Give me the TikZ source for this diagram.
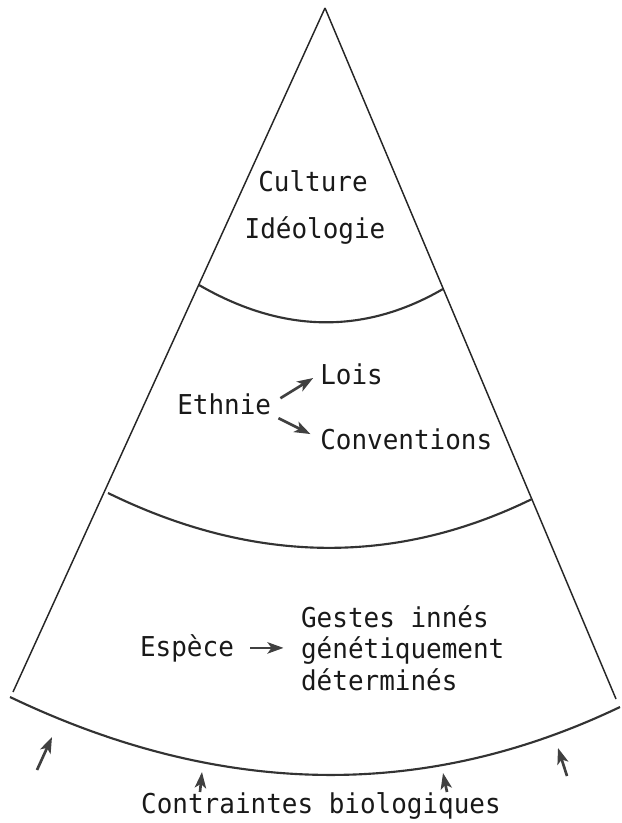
\documentclass[tikz,border=0pt]{standalone}
\usepackage{fontspec}
\setmonofont[FakeStretch=0.95]{DejaVu Sans Mono}
\usetikzlibrary{arrows.meta,positioning}

\begin{document}
\begin{tikzpicture}[x=0.75pt,y=-0.75pt,
  every node/.style={font=\ttfamily\fontsize{20.5}{23.6}\selectfont,inner sep=0pt,text=black!90},
  side/.style={draw=black!85,line width=1.1pt},
  layer/.style={draw=black!80,line width=1.6pt},
  arrowline/.style={draw=black!75,line width=2pt,arrows={-Stealth[length=12pt,width=8.5pt,inset=3pt]}}]
  \useasboundingbox (0,0) rectangle (621,823);

  % sector
  \coordinate (apex) at (325,8);
  \coordinate (bl) at (13,692);
  \coordinate (br) at (616,699);
  \draw[side] (apex) -- (bl);
  \draw[side] (apex) -- (br);

  % layers
  \draw[layer] (199,285) .. controls (280,332) and (362,336) .. (443,289);
  \draw[layer] (108,493) .. controls (249,562) and (391,568) .. (532,499);
  \draw[layer] (10,697) .. controls (213,794) and (417,804) .. (620,707);

  % labels
  \node (culture) [anchor=base] at (313,192) {Culture};
  \node (ideo)    [anchor=base] at (315,239) {Idéologie};
  \node (ethnie)  [anchor=base west] at (177,414) {Ethnie};
  \node (lois)    [anchor=base west] at (320,384) {Lois};
  \node (conv)    [anchor=base west] at (320,449) {Conventions};
  \node (espece)  [anchor=base] at (187,656) {Espèce};
  \node (gestes)  [right=50pt of espece, align=left] {Gestes innés\\génétiquement\\déterminés};
  \node (contr)   [anchor=base] at (321,813) {Contraintes biologiques};

  \draw[arrowline, shorten <=8pt, shorten >=6pt] (ethnie.east) -- (lois.west);
  \draw[arrowline, shorten <=6pt, shorten >=8pt] (ethnie.south east) -- (conv.west);
  \draw[arrowline, shorten <=12pt, shorten >=13pt] (espece.east) -- (espece.east -| gestes.west);

  % biological constraints
  \coordinate (t1) at (37,770);  \coordinate (h1) at (52,737);
  \coordinate (t2) at (200,792); \coordinate (h2) at (202,772);
  \coordinate (t3) at (447,792); \coordinate (h3) at (443,773);
  \coordinate (t4) at (567,776); \coordinate (h4) at (558,748);
  \draw[arrowline] (t1) -- (h1);
  \draw[arrowline] (t2) -- (h2);
  \draw[arrowline] (t3) -- (h3);
  \draw[arrowline] (t4) -- (h4);
\end{tikzpicture}
\end{document}
